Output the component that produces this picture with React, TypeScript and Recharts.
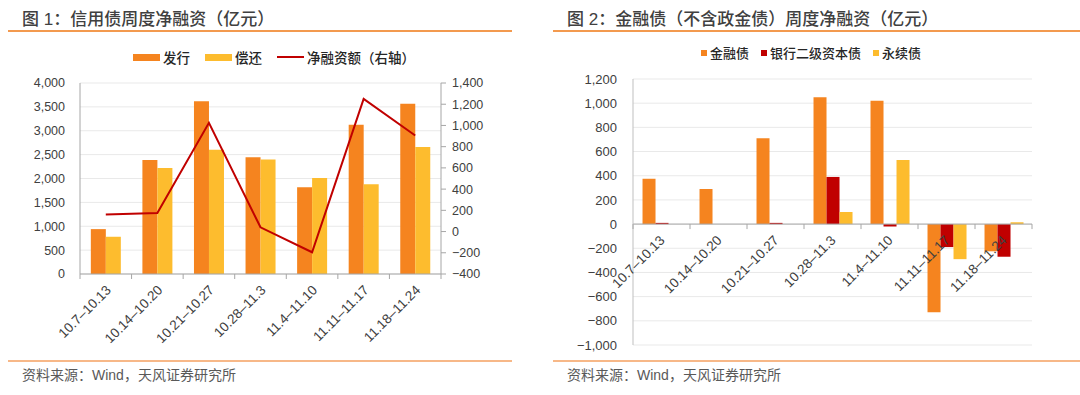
import React from "react";
import {
  ComposedChart,
  BarChart,
  Bar,
  Line,
  XAxis,
  YAxis,
  CartesianGrid,
  ReferenceLine,
} from "recharts";

const WEEKS = [
  "10.7–10.13",
  "10.14–10.20",
  "10.21–10.27",
  "10.28–11.3",
  "11.4–11.10",
  "11.11–11.17",
  "11.18–11.24",
];

// 图1：信用债
const ISSUE = [940, 2390, 3620, 2445, 1815, 3125, 3565];
const REPAY = [780, 2220, 2600, 2400, 2010, 1880, 2660];
const NET = [160, 175, 1025, 40, -195, 1250, 905];
const LEFT_TICKS = [0, 500, 1000, 1500, 2000, 2500, 3000, 3500, 4000];
const RIGHT_TICKS = [-400, -200, 0, 200, 400, 600, 800, 1000, 1200, 1400];

// 图2：金融债（不含政金债）
const FIN = [375, 290, 710, 1050, 1020, -730, -225];
const TIER2 = [10, 0, 10, 390, -20, -190, -270];
const PERP = [0, 0, 0, 100, 530, -290, 15];
const FIN_TICKS = [-1000, -800, -600, -400, -200, 0, 200, 400, 600, 800, 1000, 1200];

const ORANGE = "#F5841F";
const YELLOW = "#FDBC2E";
const RED = "#C00000";
const AXIS = "#a6a6a6";
const GRID = "#e9e9e9";
const TEXT = "#404040";
const RULE = "#F39A4F";
const FONT = '"Liberation Sans", Arial, "Noto Sans CJK SC", sans-serif';

const creditData = WEEKS.map((week, i) => ({
  week,
  issue: ISSUE[i],
  repay: REPAY[i],
  net: NET[i],
}));

const finData = WEEKS.map((week, i) => ({
  week,
  fin: FIN[i],
  tier2: TIER2[i],
  perp: PERP[i],
}));

const fmt = (v: number) => v.toLocaleString("en-US").replace("-", "\u2212");

// chart geometry
const L_W = 540, L_H = 360, L_TOP = 83, L_YW = 80, L_RYW = 99, L_XH = 86;
const L_BAND = (L_W - L_YW - L_RYW) / WEEKS.length;
const R_W = 540, R_H = 375, R_TOP = 79, R_YW = 93, R_RIGHT = 48, R_XH = 30;
const R_BAND = (R_W - R_YW - R_RIGHT) / WEEKS.length;
const R_PLOT_H = R_H - R_TOP - R_XH;
const R_ZERO_LIFT = (R_PLOT_H * 1000) / 2200;

function WeekTick(props: any) {
  const { x, y, payload, index, band, lift = 0, dx = 6 } = props;
  const y0 = y - lift;
  return (
    <g>
      <line x1={x - band / 2} x2={x - band / 2} y1={y0} y2={y0 + 5} stroke={AXIS} />
      {index === WEEKS.length - 1 && (
        <line x1={x + band / 2} x2={x + band / 2} y1={y0} y2={y0 + 5} stroke={AXIS} />
      )}
      <text
        transform={`translate(${x + dx},${y0 + 17}) rotate(-45)`}
        textAnchor="end"
        fontSize={13.5}
        fill={TEXT}
        fontFamily={FONT}
      >
        {payload.value}
      </text>
    </g>
  );
}

function Swatch({ color, w, h }: { color: string; w: number; h: number }) {
  return <span style={{ display: "inline-block", width: w, height: h, background: color, marginRight: 3 }} />;
}

function Frame({ left, title, width }: { left: number; title: string; width: number }) {
  return (
    <>
      <div style={{ position: "absolute", left: left + 14, top: 5, fontSize: 17, fontWeight: 500, color: TEXT, whiteSpace: "nowrap" }}>
        {title}
      </div>
      <div style={{ position: "absolute", left, top: 30, width, height: 1.5, background: RULE }} />
      <div style={{ position: "absolute", left, top: 360, width, height: 2, background: "#F7B888" }} />
      <div style={{ position: "absolute", left: left + 14, top: 364, fontSize: 14, color: "#595959", whiteSpace: "nowrap" }}>
        资料来源：Wind，天风证券研究所
      </div>
    </>
  );
}

export default function App() {
  return (
    <div style={{ position: "absolute", left: 0, top: 0, width: 1080, height: 395, background: "#fff", fontFamily: FONT, overflow: "hidden" }}>
      <Frame left={8} width={504} title="图 1：信用债周度净融资（亿元）" />
      <Frame left={553} width={527} title="图 2：金融债（不含政金债）周度净融资（亿元）" />

      {/* legend 1 */}
      <div style={{ position: "absolute", left: 133, top: 47, display: "flex", alignItems: "center", fontSize: 13.5, fontWeight: 500, color: "#262626", whiteSpace: "nowrap" }}>
        <Swatch color={ORANGE} w={27} h={7} />
        <span style={{ marginRight: 15 }}>发行</span>
        <Swatch color={YELLOW} w={27} h={7} />
        <span style={{ marginRight: 15 }}>偿还</span>
        <Swatch color={RED} w={27} h={2} />
        <span>净融资额（右轴）</span>
      </div>

      {/* legend 2 */}
      <div style={{ position: "absolute", left: 701, top: 43, display: "flex", alignItems: "center", fontSize: 13, fontWeight: 500, color: "#262626", whiteSpace: "nowrap" }}>
        <Swatch color={ORANGE} w={6} h={6} />
        <span style={{ marginRight: 12 }}>金融债</span>
        <Swatch color={RED} w={6} h={6} />
        <span style={{ marginRight: 12 }}>银行二级资本债</span>
        <Swatch color={YELLOW} w={6} h={6} />
        <span>永续债</span>
      </div>

      <div style={{ position: "absolute", left: 0, top: 0 }}>
        <ComposedChart
          width={L_W}
          height={L_H}
          data={creditData}
          margin={{ top: L_TOP, right: 0, left: 0, bottom: 0 }}
          barCategoryGap="21%"
          barGap={0}
        >
          <CartesianGrid yAxisId="left" vertical={false} stroke={GRID} />
          <YAxis
            yAxisId="left"
            width={L_YW}
            type="number"
            domain={[0, 4000]}
            ticks={LEFT_TICKS}
            tickFormatter={fmt}
            tickLine={false}
            tickSize={0}
            tickMargin={15}
            axisLine={{ stroke: AXIS }}
            tick={{ fontSize: 12.5, fill: TEXT, fontFamily: FONT }}
            interval={0}
          />
          <YAxis
            yAxisId="right"
            orientation="right"
            width={L_RYW}
            type="number"
            domain={[-400, 1400]}
            ticks={RIGHT_TICKS}
            tickFormatter={fmt}
            tickSize={5}
            tickMargin={6}
            tickLine={{ stroke: AXIS }}
            axisLine={{ stroke: AXIS }}
            tick={{ fontSize: 12.5, fill: TEXT, fontFamily: FONT }}
            interval={0}
          />
          <Bar yAxisId="left" dataKey="issue" name="发行" fill={ORANGE} isAnimationActive={false} />
          <Bar yAxisId="left" dataKey="repay" name="偿还" fill={YELLOW} isAnimationActive={false} />
          <Line
            yAxisId="right"
            dataKey="net"
            name="净融资额（右轴）"
            stroke={RED}
            strokeWidth={2}
            dot={false}
            isAnimationActive={false}
          />
          <XAxis
            dataKey="week"
            height={L_XH}
            interval={0}
            tickLine={false}
            tickSize={0}
            tickMargin={0}
            axisLine={{ stroke: AXIS }}
            tick={(p: any) => <WeekTick {...p} band={L_BAND} dx={6} />}
          />
        </ComposedChart>
      </div>

      <div style={{ position: "absolute", left: 540, top: 0 }}>
        <BarChart
          width={R_W}
          height={R_H}
          data={finData}
          margin={{ top: R_TOP, right: R_RIGHT, left: 0, bottom: 0 }}
          barCategoryGap="16.7%"
          barGap={0}
        >
          <CartesianGrid vertical={false} stroke={GRID} />
          <YAxis
            width={R_YW}
            type="number"
            domain={[-1000, 1200]}
            ticks={FIN_TICKS}
            tickFormatter={fmt}
            tickLine={false}
            tickSize={0}
            tickMargin={16}
            axisLine={{ stroke: "#bfbfbf" }}
            tick={{ fontSize: 13, fill: TEXT, fontFamily: FONT }}
            interval={0}
          />
          <Bar dataKey="fin" name="金融债" fill={ORANGE} isAnimationActive={false} />
          <Bar dataKey="tier2" name="银行二级资本债" fill={RED} isAnimationActive={false} />
          <Bar dataKey="perp" name="永续债" fill={YELLOW} isAnimationActive={false} />
          <ReferenceLine y={0} stroke={AXIS} />
          <XAxis dataKey="week" height={R_XH} tick={false} tickLine={false} axisLine={false} />
        </BarChart>
      </div>

      {/* category labels sit on the zero line, above the bars */}
      <div style={{ position: "absolute", left: 540, top: 0, pointerEvents: "none" }}>
        <BarChart
          width={R_W}
          height={R_H}
          data={finData}
          margin={{ top: R_TOP, right: R_RIGHT, left: 0, bottom: 0 }}
        >
          <YAxis width={R_YW} type="number" domain={[-1000, 1200]} tick={false} tickLine={false} axisLine={false} />
          <XAxis
            dataKey="week"
            height={R_XH}
            interval={0}
            tickLine={false}
            tickSize={0}
            tickMargin={0}
            axisLine={false}
            tick={(p: any) => <WeekTick {...p} band={R_BAND} lift={R_ZERO_LIFT} dx={4} />}
          />
        </BarChart>
      </div>
    </div>
  );
}
